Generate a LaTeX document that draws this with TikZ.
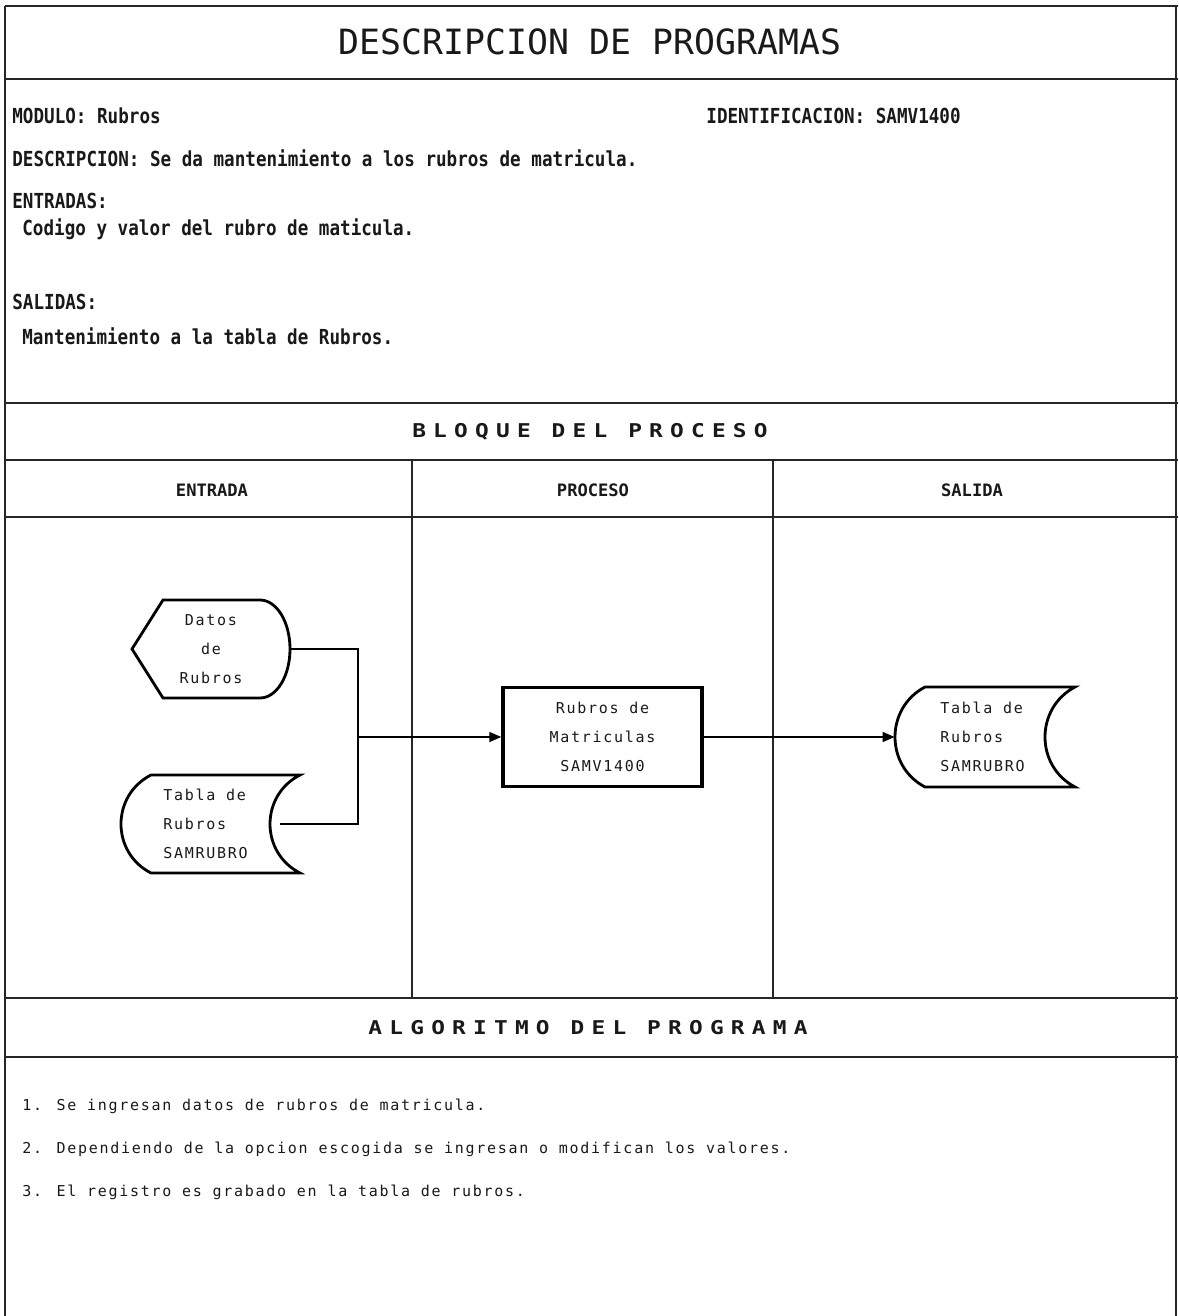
\documentclass[tikz,border=0pt]{standalone}
\usepackage{fontspec}
\usetikzlibrary{arrows.meta}
\newfontfamily\titlef{DejaVu Sans Mono}
\newfontfamily\headf[FakeStretch=0.85]{DejaVu Sans Mono Bold}
\newfontfamily\spacef[LetterSpace=11.5]{DejaVu Sans Mono}
\newfontfamily\bandf[FakeStretch=1.2,LetterSpace=38]{DejaVu Sans Mono Bold}
\newfontfamily\colf{DejaVu Sans Mono Bold}
\begin{document}
\begin{tikzpicture}[x=0.5pt,y=-0.5pt,
  frame/.style={line width=1pt, black!85},
  conn/.style={line width=0.7pt},
  arr/.style={conn, -{Triangle[length=6pt,width=5pt]}},
  outline/.style={line width=1.4pt, line join=miter},
  txt/.style={inner sep=0pt, text=black!90},
  titlestyle/.style={txt, font=\fontsize{17.4}{20}\titlef},
  headstyle/.style={txt, anchor=base west, font=\fontsize{10.35}{12}\headf},
  bandstyle/.style={txt, font=\fontsize{9.5}{11}\bandf},
  colstyle/.style={txt, font=\fontsize{8.55}{10}\colf},
  algstyle/.style={txt, anchor=base west, font=\fontsize{7.5}{9}\spacef},
  shapetext/.style={txt, font=\fontsize{7.5}{14.5}\spacef},
  blank/.style={inner sep=0pt, draw=none}
]
\useasboundingbox (0,0) rectangle (1178,1316);
% frame
\draw[frame] (5,6) -- (1178,6);
\draw[frame] (5,6) -- (5,1316);
\draw[frame] (1176,6) -- (1176,1316);
\foreach \yy in {79,403,460,517,998,1057}
  \draw[frame] (5,\yy) -- (1178,\yy);
\draw[frame] (412,460) -- (412,998);
\draw[frame] (773,460) -- (773,998);

% header
\node[titlestyle] (title) at (590,42) {DESCRIPCION DE PROGRAMAS};
\node[headstyle] (modulo) at (12,124) {MODULO: Rubros};
\node[headstyle] (ident) at (706,124) {IDENTIFICACION: SAMV1400};
\node[headstyle] (desc) at (12,167) {DESCRIPCION: Se da mantenimiento a los rubros de matricula.};
\node[headstyle] (entradas) at (12,209) {ENTRADAS:};
\node[headstyle] (entval) at (22,235) {Codigo y valor del rubro de maticula.};
\node[headstyle] (salidas) at (12,309) {SALIDAS:};
\node[headstyle] (salval) at (22,344) {Mantenimiento a la tabla de Rubros.};

% bands
\node[bandstyle] (bloque) at (590,432) {BLOQUE DEL PROCESO};
\node[colstyle] (centrada) at (212,490) {ENTRADA};
\node[colstyle] (cproceso) at (593,490) {PROCESO};
\node[colstyle] (csalida) at (972,490) {SALIDA};
\node[bandstyle] (algo) at (588,1028) {ALGORITMO DEL PROGRAMA};

% algorithm
\node[algstyle] (alg1) at (22,1110) {1. Se ingresan datos de rubros de matricula.};
\node[algstyle] (alg2) at (22,1153) {2. Dependiendo de la opcion escogida se ingresan o modifican los valores.};
\node[algstyle] (alg3) at (22,1196) {3. El registro es grabado en la tabla de rubros.};

% display shape: Datos de Rubros
\node[blank, minimum width=79pt, minimum height=49pt] (datos) at (211,649) {};
\draw[outline, shift={(datos.center)}]
  (-79,0) -- (-48,-49) -- (49,-49)
  .. controls (65.6,-49) and (79,-27.1) .. (79,0)
  .. controls (79,27.1) and (65.6,49) .. (49,49)
  -- (-48,49) -- cycle;
\node[shapetext, align=center] (datostxt) at (211,649) {Datos\\de\\Rubros};

% stored data (input)
\node[blank, minimum width=89pt, minimum height=49pt] (tabin) at (211,824) {};
\draw[outline, shift={(tabin.center)}]
  (-60,-49) -- (89,-49)
  .. controls (49,-28.6) and (49,28.6) .. (89,49)
  -- (-60,49)
  .. controls (-100,28.6) and (-100,-28.6) .. (-60,-49) -- cycle;
\node[shapetext, align=left, anchor=west] (tabintxt) at (163,824) {Tabla de\\Rubros\\SAMRUBRO};

% process box
\node[draw, line width=1.7pt, minimum width=99.5pt, minimum height=49.5pt,
      shapetext, align=center] (proc) at (602.5,737) {Rubros de\\Matriculas\\SAMV1400};

% stored data (output)
\node[blank, minimum width=90pt, minimum height=50pt] (tabout) at (985,737) {};
\draw[outline, shift={(tabout.center)}]
  (-60,-50) -- (90,-50)
  .. controls (50,-29) and (50,29) .. (90,50)
  -- (-60,50)
  .. controls (-100,29) and (-100,-29) .. (-60,-50) -- cycle;
\node[shapetext, align=left, anchor=west] (tabouttxt) at (940,737) {Tabla de\\Rubros\\SAMRUBRO};

% connectors
\coordinate (j) at (358,737);
\coordinate (tabinport) at ([xshift=-10pt]tabin.east);
\draw[conn] (datos.east) -| (j);
\draw[conn] (tabinport) -| (j);
\draw[arr] (j) -- (proc.west);
\draw[arr] (proc.east) -- (tabout.west);
\end{tikzpicture}
\end{document}
